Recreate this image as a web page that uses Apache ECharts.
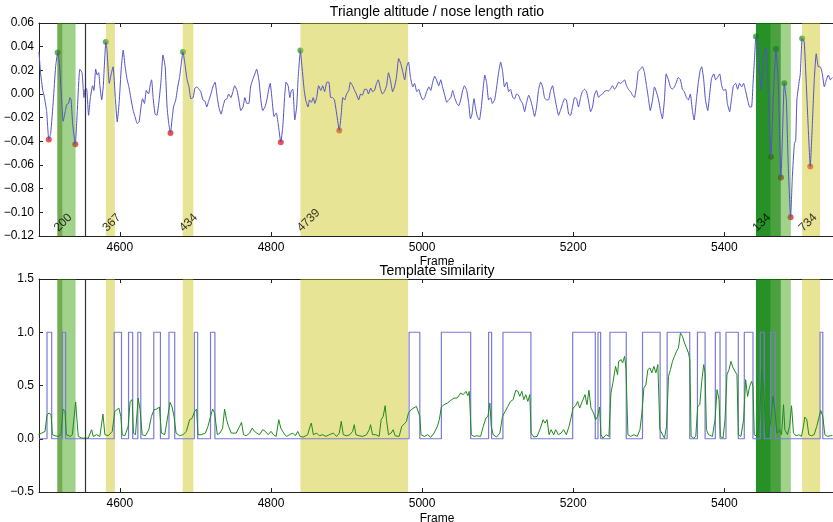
<!DOCTYPE html>
<html><head><meta charset="utf-8">
<script src="https://cdn.jsdelivr.net/npm/echarts@6/dist/echarts.min.js"></script>
<style>html,body{margin:0;padding:0;background:#fff;overflow:hidden}#c{width:833px;height:522px}</style>
</head><body><div id="c"></div>
<script>
// ---------- data ----------
const xTicks = [4600, 4800, 5000, 5200, 5400];
const topTitle = 'Triangle altitude / nose length ratio';
const bottomTitle = 'Template similarity';
const xName = 'Frame';

const ratioFrames = [4493,4495,4498,4499.6,4503,4506,4508.5,4512,4515,4517.7,4520,4522.5,4525,4528,4529.6,4532,4534,4535.5,4537.5,4541,4543.7,4547,4550,4552.5,4554,4556,4558.6,4561,4564,4565.7,4568,4570,4572,4573.6,4576,4578,4581.5,4583,4586,4588.6,4591,4594,4596.5,4599,4602,4604.4,4607,4609.7,4612,4615,4617.6,4620,4623,4625.5,4628,4630,4632.6,4635,4638,4640.5,4642,4644,4646.6,4649,4652,4654.6,4657,4660,4662.5,4664.7,4667,4669,4671,4674,4676.6,4679,4683.6,4686,4689,4691.5,4694,4697,4699.4,4702,4704.7,4707,4710,4712.7,4715,4718,4720.6,4723,4726,4728.5,4731,4734,4736.4,4739,4741.7,4744,4747,4749.6,4752,4755,4757.5,4760,4763,4765.5,4768,4770.7,4773,4775.7,4778.7,4781,4784,4786.6,4789,4792,4794.5,4797,4799,4801.5,4804,4807,4809.5,4813,4815.6,4818,4820,4822.7,4825,4827,4829,4831.5,4834,4836,4839,4841,4844,4846,4849,4851,4853.5,4856,4858,4860.5,4863,4866,4868.4,4871,4874,4876.6,4879,4881.6,4884,4887,4890.4,4893,4895,4897.5,4900,4903,4905,4908,4910.7,4913,4916,4918.6,4921,4924,4926.6,4929,4932,4934.5,4937,4939.7,4942,4945,4947.6,4950,4953,4955.5,4958,4961,4963.5,4966,4969,4971.6,4974,4977,4979.5,4982,4984.6,4987.7,4990,4993,4995.6,4998,5001,5003.5,5006,5009,5011.5,5014,5016.7,5019,5022,5024.7,5027,5030,5032.6,5035,5038,5040.5,5043,5046,5048.5,5051,5053.7,5056,5059,5061.7,5064,5066,5068.7,5070.5,5073,5075.8,5078.4,5081,5083,5085.5,5088,5090.7,5093,5096,5098.7,5101,5104,5106.6,5109,5112,5114.5,5117,5120,5122.5,5125,5127.7,5130,5133,5135.7,5138,5141,5143.6,5146,5148.9,5151.5,5154,5156.8,5159.5,5162,5164.8,5167.4,5170,5172.7,5175,5178,5180.6,5183,5186,5188.5,5191,5194,5196.5,5199,5201.8,5204.4,5207,5209.7,5212,5215,5217.6,5220,5223,5225.5,5228,5230.8,5233.5,5236,5238.8,5241,5244,5246.7,5249,5252,5254.6,5257,5260,5262.6,5265,5268,5270.5,5273,5275.8,5278.4,5281,5283.7,5286,5289,5291.6,5294,5297,5299.6,5302,5305,5307.5,5310,5313,5315.4,5318,5320.7,5323,5326,5328.6,5331,5334,5336.6,5339,5341.9,5344.5,5347,5349.8,5352.4,5355,5357.7,5360,5363,5365.6,5368,5370,5372.7,5375,5378,5380.6,5383,5386,5388.5,5391,5393.8,5396.5,5399,5401.8,5404,5407,5409.7,5412,5415,5417.6,5420,5423,5425.5,5428,5430.8,5433.5,5436,5438,5440,5441.8,5444,5446,5448.6,5451,5454,5455.8,5458.6,5461.7,5464.6,5468.3,5471.4,5474.9,5477,5479.3,5482,5484.6,5487.7,5490,5492.7,5494.5,5496,5498.7,5500.5,5503,5505.7,5508.4,5511,5513.7,5516.3,5519,5521.6,5524.4,5527,5529.7,5532.3,5535,5537.6,5540.4,5543];
const ratioValues = [0.0355,0.018,0.003,-0.001,-0.014,-0.0384,-0.033,-0.005,0.023,0.035,0.026,0.000,-0.023,-0.014,-0.009,-0.008,-0.003,-0.005,-0.025,-0.0424,-0.014,0.021,0.018,-0.003,0.004,0.0045,-0.018,-0.003,0.007,0.003,0.021,0.016,0.018,0.007,-0.005,0.006,0.044,0.037,0.009,0.017,0.023,-0.003,-0.0235,-0.008,0.023,0.037,0.023,0.012,0.006,-0.005,-0.014,-0.019,-0.025,-0.0235,-0.011,-0.004,-0.008,0.003,0.000,0.009,0.012,-0.003,-0.017,-0.018,-0.005,0.012,0.033,0.023,-0.011,-0.025,-0.033,-0.022,-0.011,-0.005,0.006,0.014,0.0355,0.026,0.012,0.006,-0.004,-0.003,0.005,0.006,0.004,0.002,-0.005,-0.006,-0.011,-0.005,0.000,0.006,0.010,-0.001,-0.011,-0.017,-0.011,-0.005,-0.004,0.000,-0.003,0.002,0.007,0.003,-0.005,-0.014,-0.011,-0.003,-0.008,-0.008,0.006,0.012,0.017,0.021,0.012,-0.005,-0.014,-0.011,-0.005,0.004,0.009,-0.005,-0.019,-0.016,-0.025,-0.0407,-0.028,-0.003,0.010,0.007,-0.003,0.003,0.004,-0.022,-0.011,0.014,0.0367,0.023,0.003,-0.005,-0.011,-0.005,-0.007,-0.003,-0.008,-0.003,0.007,0.003,0.007,0.002,0.010,0.010,-0.003,-0.003,-0.005,-0.017,-0.0308,-0.017,-0.003,-0.005,0.000,0.003,0.010,0.007,0.003,0.000,-0.005,0.000,-0.001,0.004,0.004,0.000,0.005,0.002,0.003,0.009,0.012,0.004,0.000,0.002,0.007,0.018,0.012,0.002,0.006,0.014,0.030,0.026,0.020,0.012,0.023,0.027,0.014,0.006,0.009,0.002,0.004,-0.001,-0.005,-0.003,0.002,0.006,0.003,0.010,0.015,0.012,0.007,0.012,0.006,-0.001,-0.007,-0.005,-0.003,0.003,-0.003,-0.008,-0.010,-0.005,0.003,0.007,0.003,-0.008,-0.021,-0.017,-0.004,-0.011,-0.019,-0.022,-0.011,0.006,0.016,0.009,-0.005,-0.003,-0.008,-0.005,0.006,0.017,0.027,0.019,0.006,0.010,0.002,0.004,-0.003,-0.004,0.000,-0.001,-0.005,-0.008,-0.015,-0.008,-0.001,-0.005,-0.011,-0.019,-0.011,0.003,0.010,0.006,-0.003,-0.005,-0.005,0.003,0.007,-0.001,-0.011,-0.018,-0.014,-0.008,-0.004,-0.005,-0.017,-0.018,-0.011,-0.003,-0.004,-0.011,-0.003,0.002,0.004,0.002,-0.005,-0.015,-0.011,-0.001,0.003,-0.003,-0.001,0.000,0.002,0.003,0.0025,0.004,0.007,0.004,0.006,0.010,0.009,0.010,0.012,0.007,0.004,0.002,-0.001,-0.003,0.006,0.019,0.021,0.023,0.019,0.007,-0.004,-0.014,-0.005,0.006,0.002,-0.005,-0.014,-0.021,-0.005,0.017,0.012,0.006,0.004,0.006,0.010,0.014,0.012,0.004,0.002,-0.003,-0.005,0.000,-0.014,-0.022,-0.005,0.010,0.020,0.023,0.012,-0.005,-0.014,0.000,0.013,0.017,0.012,0.014,0.017,0.007,0.003,0.004,-0.008,-0.015,-0.003,0.007,0.009,0.004,0.009,0.006,0.009,0.003,-0.005,-0.011,-0.011,0.009,0.031,0.0485,0.0455,0.023,0.004,0.023,0.039,0.037,-0.005,-0.053,-0.005,0.038,0.009,-0.0705,-0.033,0.009,-0.005,-0.0615,-0.1042,-0.070,-0.042,-0.039,-0.005,0.009,0.017,0.047,0.044,0.009,-0.028,-0.0612,-0.028,0.012,0.034,0.023,0.023,0.017,0.006,0.012,0.016,0.012,0.014];

const peakFrames = [4517.7, 4581.5, 4683.6, 4839, 5441.8, 5468.3, 5479.3, 5503];
const peakValues = [0.035, 0.044, 0.0355, 0.0367, 0.0485, 0.038, 0.009, 0.047];
const troughFrames = [4506, 4541, 4667, 4813, 4890.4, 5461.7, 5474.9, 5487.7, 5513.7];
const troughValues = [-0.0384, -0.0424, -0.033, -0.0407, -0.0308, -0.053, -0.0705, -0.1042, -0.0612];

const spanStarts = [4517.2, 4524.3, 4581.5, 4683.2, 4839, 5441.8, 5461.6, 5474.8, 5502.9];
const spanEnds   = [4524.3, 4541.4, 4593.4, 4697.3, 4981.5, 5461.6, 5474.8, 5488, 5526.7];
const spanKinds  = ['olive', 'light', 'yellow', 'yellow', 'yellow', 'dark', 'medium', 'light', 'yellow'];
const spanLabelFrames = [4517.2, 4581.5, 4683.2, 4839, 5441.8, 5502.9];
const spanLabelTexts = ['200', '367', '434', '4739', '134', '734'];
const markerFrame = 4554.2;

const stepFrames = [4493,4503.6,4509.8,4523.8,4528.3,4592.5,4602.2,4611.5,4617,4623.8,4627.7,4644.9,4653.7,4665,4672.6,4698.6,4703,4720,4725.8,4982.8,4997,5025.5,5064.3,5088,5092,5107,5144,5199.3,5229.2,5232.8,5236.3,5248.6,5270.2,5291.7,5315,5324.3,5354.2,5364.4,5374.5,5388.1,5394.3,5402.2,5418.5,5426.4,5437.9,5447.5,5452.8,5461.1,5467.7,5526.7,5530.3,5545];
const stepValues = [0,1,0,1,0,1,0,1,0,1,0,1,0,1,0,1,0,1,0,1,0,1,0,1,0,1,0,1,0,1,0,1,0,1,0,1,0,1,0,1,0,1,0,1,0,1,0,1,0,1,0,0];

const simFrames = [4492.2,4496.6,4501,4503.6,4506.3,4509,4510.7,4514.2,4518.6,4522.1,4524.8,4527.4,4529.2,4531.8,4534.4,4537.1,4539.7,4541.5,4543.2,4545,4549.4,4558.2,4562.6,4564.8,4569.2,4573.6,4577.6,4580.2,4584.6,4589.9,4593.4,4596,4598.7,4601.3,4603.1,4606.6,4611,4613.6,4616.3,4618,4620.7,4624.2,4626.8,4629.5,4633.9,4638.3,4641.8,4645.3,4648.8,4652.4,4655,4659.4,4663.8,4666.4,4669.1,4671.7,4674.4,4679.2,4683.6,4688,4692.4,4695.5,4699,4701.6,4703.4,4707.8,4713.1,4716.6,4720.1,4722.8,4725.4,4729,4732.4,4736,4738.6,4741.2,4743.9,4747.4,4749.6,4754,4758.4,4761,4763.7,4767.2,4771.6,4775.1,4778.2,4781.3,4784.8,4789.2,4792.7,4796.2,4800.2,4803.3,4806.8,4810.3,4813,4815.6,4818.2,4820.9,4824.4,4828.8,4832.3,4835.4,4838.5,4842.9,4848.6,4851.7,4853.4,4856.1,4860.5,4864,4868.4,4872.8,4877.2,4882.5,4886.9,4890.4,4893,4895.7,4900.1,4904.5,4908,4910.2,4912.4,4916.8,4921.2,4926.5,4930,4931.8,4934.4,4938.8,4943.2,4945.8,4948.5,4951.1,4952.9,4955.5,4959,4961.7,4964.3,4969.6,4973.1,4976.6,4979.3,4981.9,4985.4,4988.9,4992.5,4995.1,4996.9,4998.6,5003,5007.4,5011.4,5015.8,5020.2,5022.8,5025.5,5029,5033.4,5037.8,5042.2,5046.6,5051,5054.5,5058,5060.7,5062.4,5065.1,5068.6,5073,5077.4,5080.9,5084.4,5087.1,5089.7,5091.5,5094.1,5098.5,5102.9,5106.4,5110,5113.5,5117,5120.5,5124,5126.7,5129.3,5132,5134.6,5137.2,5139.9,5142.5,5144.3,5147.8,5152.2,5156.6,5160.1,5162.8,5165.4,5168,5170.7,5174.2,5176.8,5180.4,5183.9,5187.4,5190.9,5194.4,5197.1,5199.7,5203.2,5205.9,5208.5,5212,5215.6,5218.2,5220.8,5223.5,5227,5229.6,5232.3,5234.9,5236.7,5239.3,5243.7,5247.2,5249.9,5252.5,5256,5258.7,5260.1,5263.6,5265.4,5268,5269.8,5272.4,5276,5280.3,5284.7,5288.3,5290.9,5293.5,5296.2,5298.8,5301.5,5304.1,5306.7,5309.4,5312,5314.7,5317.3,5320.8,5323.5,5326.1,5328.7,5331.4,5334,5336.7,5339.3,5341.9,5344.6,5347.2,5349.9,5352.5,5354.3,5356,5359.5,5362.2,5364.8,5367.5,5370.1,5372.7,5374.5,5376.3,5379,5381.5,5384.2,5387.7,5390.3,5393,5394.7,5398.3,5400.9,5403.5,5406.2,5408.8,5411.5,5414.1,5416.7,5418.5,5422,5425.5,5428.2,5430.8,5433.5,5436.1,5437.9,5439.6,5443.1,5446.7,5449.3,5452,5454.6,5458.1,5461.6,5464.3,5466.9,5469.5,5473.1,5475.7,5478.3,5480.1,5483.6,5486.3,5488.9,5491.5,5495.1,5498.6,5502.1,5504.7,5506.5,5509.1,5511.8,5515.3,5518.8,5522.3,5525,5527.6,5530.3,5533,5536.4,5540,5543];
const simValues = [0.038,0.053,0.069,0.226,0.241,0.226,0.038,0.028,0.022,0.038,0.279,0.257,0.038,0.044,0.022,0.038,0.053,0.345,0.179,0.022,0.006,0.006,0.085,0.022,0.038,0.022,0.232,0.038,0.028,0.069,0.257,0.273,0.288,0.21,0.038,0.028,0.116,0.351,0.367,0.053,0.038,0.382,0.273,0.038,0.028,0.085,0.21,0.273,0.279,0.298,0.053,0.038,0.226,0.342,0.298,0.21,0.053,0.028,0.038,0.069,0.179,0.191,0.257,0.279,0.038,0.038,0.053,0.116,0.21,0.279,0.241,0.038,0.053,0.1,0.279,0.179,0.116,0.053,0.038,0.053,0.116,0.154,0.038,0.028,0.053,0.1,0.069,0.053,0.038,0.085,0.069,0.038,0.069,0.038,0.022,0.179,0.1,0.085,0.038,0.022,0.038,0.053,0.028,0.069,0.022,0.016,0.038,0.116,0.147,0.038,0.053,0.028,0.038,0.022,0.038,0.053,0.022,0.053,0.163,0.038,0.028,0.038,0.069,0.132,0.038,0.028,0.022,0.038,0.085,0.132,0.038,0.038,0.022,0.179,0.21,0.31,0.179,0.038,0.053,0.085,0.028,0.022,0.116,0.141,0.163,0.241,0.273,0.288,0.304,0.32,0.21,0.038,0.022,0.038,0.0125,0.053,0.116,0.179,0.298,0.32,0.335,0.36,0.382,0.382,0.429,0.414,0.445,0.404,0.445,0.038,0.022,0.028,0.022,0.116,0.194,0.21,0.335,0.116,0.038,0.016,0.053,0.21,0.257,0.304,0.351,0.367,0.455,0.445,0.398,0.445,0.367,0.414,0.351,0.414,0.053,0.016,0.022,0.1,0.179,0.147,0.179,0.038,0.085,0.038,0.085,0.038,0.053,0.085,0.038,0.116,0.194,0.288,0.31,0.351,0.288,0.351,0.414,0.32,0.455,0.288,0.241,0.179,0.21,0.298,0.038,0.006,0.038,0.022,0.429,0.524,0.68,0.602,0.727,0.743,0.712,0.774,0.665,0.038,0.022,0.038,0.022,0.085,0.241,0.476,0.508,0.649,0.665,0.618,0.68,0.618,0.696,0.085,0.085,0.006,0.116,0.586,0.649,0.727,0.774,0.821,0.853,0.994,0.962,0.9,0.853,0.806,0.743,0.022,0.006,0.022,0.304,0.32,0.539,0.696,0.618,0.085,0.038,0.053,0.022,0.179,0.461,0.367,0.022,0.006,0.179,0.602,0.649,0.727,0.665,0.649,0.602,0.038,0.022,0.179,0.555,0.398,0.492,0.539,0.492,0.038,0.022,0.179,0.649,0.492,0.053,0.022,0.179,0.398,0.273,0.053,0.085,0.038,0.32,0.085,0.038,0.116,0.31,0.053,0.028,0.038,0.022,0.116,0.204,0.179,0.038,0.028,0.038,0.116,0.194,0.266,0.21,0.038,0.022,0.028,0.03];

// ---------- styles ----------
const FONT = '"Liberation Sans", Arial, Helvetica, sans-serif';
const spanColors = {
  olive: 'rgba(48,131,0,0.68)',
  light: 'rgba(44,155,0,0.45)',
  medium: 'rgba(15,128,0,0.75)',
  dark: 'rgba(4,126,4,0.86)',
  yellow: 'rgba(204,195,22,0.45)'
};
const X_MIN = 4493, X_MAX = 5543.8;
const zip = (a, b) => a.map((v, i) => [v, b[i]]);

const topFmt = v => Math.abs(v) < 1e-9 ? '0.00' : (v < 0 ? '\u2212' : '') + Math.abs(v).toFixed(2);
const botFmt = v => Math.abs(v) < 1e-9 ? '0.0' : (v < 0 ? '\u2212' : '') + Math.abs(v).toFixed(1);

function xAx(gi, pos, labels) {
  return {
    type: 'value', gridIndex: gi, position: pos, min: X_MIN, max: X_MAX,
    axisLine: { show: true, onZero: false, lineStyle: { color: '#222', width: 1 } },
    axisTick: { show: true, inside: true, length: 4, customValues: xTicks, lineStyle: { color: '#222' } },
    axisLabel: { show: labels, customValues: xTicks, color: '#000', fontSize: 12, fontFamily: FONT, margin: 6,
      formatter: v => String(Math.round(v)) },
    splitLine: { show: false }
  };
}
function yAx(gi, min, max, interval, fmt) {
  return {
    type: 'value', gridIndex: gi, min: min, max: max, interval: interval,
    axisLine: { show: true, onZero: false, lineStyle: { color: '#222', width: 1 } },
    axisTick: { show: true, inside: true, length: 4, lineStyle: { color: '#222' } },
    axisLabel: { color: '#000', fontSize: 12, fontFamily: FONT, margin: 5, formatter: fmt },
    splitLine: { show: false }
  };
}
const spanAreas = spanStarts.map((s, i) => [
  { xAxis: s, itemStyle: { color: spanColors[spanKinds[i]], borderWidth: 0 } },
  { xAxis: spanEnds[i] }
]);
function spanSeries(xi, yi) {
  return {
    type: 'line', xAxisIndex: xi, yAxisIndex: yi, data: [], z: 2, silent: true,
    markArea: { silent: true, z: 2, data: spanAreas, label: { show: false } }
  };
}
function vlineSeries(xi, yi) {
  return {
    type: 'line', xAxisIndex: xi, yAxisIndex: yi, data: [], z: 6, silent: true,
    markLine: { silent: true, z: 6, symbol: 'none', label: { show: false },
      lineStyle: { color: '#333', width: 1.2, type: 'solid' }, data: [{ xAxis: markerFrame }] }
  };
}

const option = {
  animation: false,
  backgroundColor: '#fff',
  grid: [
    { left: 39, top: 23, width: 796, height: 213 },
    { left: 39, top: 279, width: 796, height: 213 }
  ],
  xAxis: [xAx(0, 'bottom', true), xAx(1, 'bottom', true), xAx(0, 'top', false), xAx(1, 'top', false)],
  yAxis: [yAx(0, -0.12, 0.06, 0.02, topFmt), yAx(1, -0.5, 1.5, 0.5, botFmt)],
  graphic: [
    { type: 'text', x: 437, y: 12, style: { text: topTitle, font: '14px ' + FONT, fill: '#000', align: 'center', verticalAlign: 'middle' } },
    { type: 'text', x: 437, y: 271, style: { text: bottomTitle, font: '14px ' + FONT, fill: '#000', align: 'center', verticalAlign: 'middle' } },
    { type: 'text', x: 437, y: 262, style: { text: xName, font: '12px ' + FONT, fill: '#000', align: 'center', verticalAlign: 'middle' } },
    { type: 'text', x: 437, y: 519, style: { text: xName, font: '12px ' + FONT, fill: '#000', align: 'center', verticalAlign: 'middle' } }
  ],
  series: [
    { type: 'scatter', xAxisIndex: 0, yAxisIndex: 0, z: 1, symbolSize: 6, data: zip(peakFrames, peakValues),
      itemStyle: { color: '#3a9e3a' } },
    { type: 'scatter', xAxisIndex: 0, yAxisIndex: 0, z: 1, symbolSize: 6, data: zip(troughFrames, troughValues),
      itemStyle: { color: '#e8282b' } },
    spanSeries(0, 0),
    spanSeries(1, 1),
    { type: 'line', xAxisIndex: 0, yAxisIndex: 0, z: 3, data: zip(ratioFrames, ratioValues), showSymbol: false,
      smooth: 0.15, lineStyle: { color: '#5252c8', width: 1 } },
    { type: 'line', xAxisIndex: 1, yAxisIndex: 1, z: 3, data: zip(stepFrames, stepValues), step: 'end', showSymbol: false,
      lineStyle: { color: '#7a7ad8', width: 1.2 } },
    { type: 'line', xAxisIndex: 1, yAxisIndex: 1, z: 4, data: zip(simFrames, simValues), showSymbol: false,
      lineStyle: { color: '#1f8a1f', width: 1 } },
    vlineSeries(0, 0),
    vlineSeries(1, 1),
    { type: 'scatter', xAxisIndex: 0, yAxisIndex: 0, z: 7, symbolSize: 0, silent: true,
      data: spanLabelFrames.map((f, i) => [f, -0.12, spanLabelTexts[i]]),
      label: { show: true, formatter: p => p.data[2], position: [3, -2], align: 'left', verticalAlign: 'bottom',
        rotate: 45, color: '#000', fontSize: 12, fontFamily: FONT } }
  ]
};
const chart = echarts.init(document.getElementById('c'), null, { renderer: 'canvas' });
chart.setOption(option);
</script>
</body></html>
